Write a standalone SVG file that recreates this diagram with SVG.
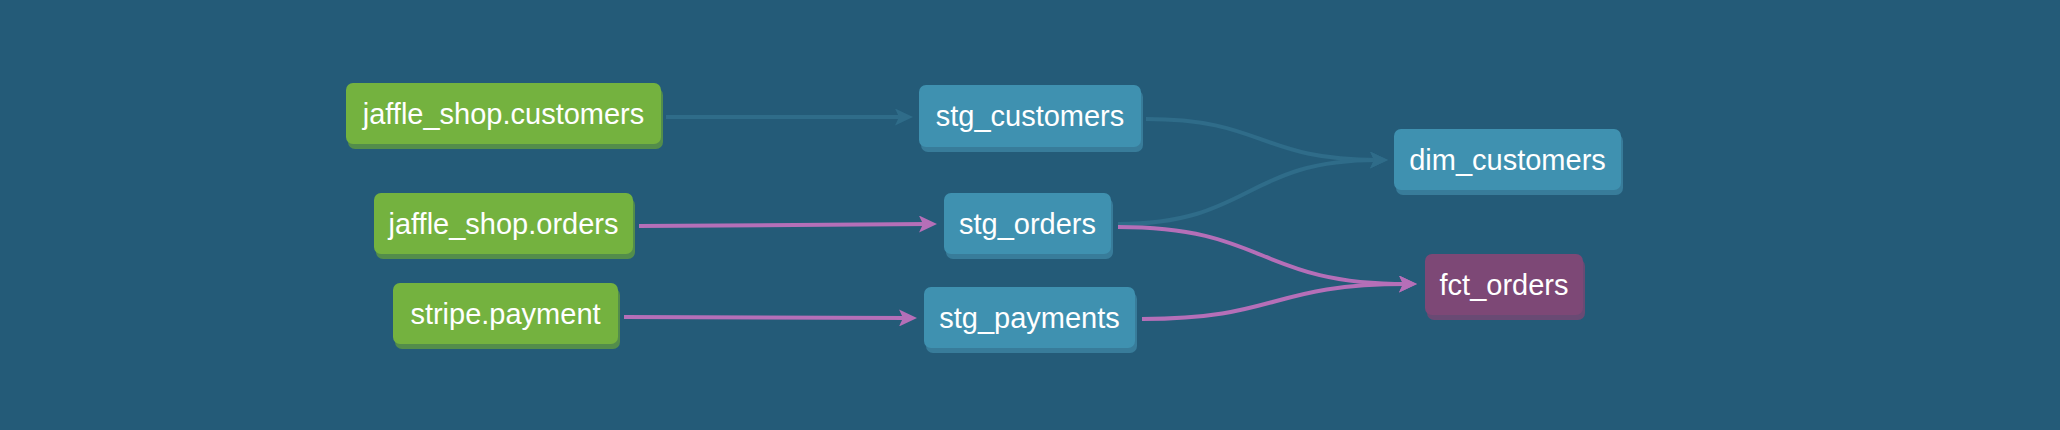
<svg xmlns="http://www.w3.org/2000/svg" width="2060" height="430" viewBox="0 0 2060 430">
<style>
.bg{fill:#245b78}
.lbl{font-family:"Liberation Sans",Arial,Helvetica,sans-serif;font-size:29px;fill:#ffffff;text-anchor:middle}
.src rect.f{fill:#74b23f}
.src rect.s{fill:#538d4b}
.mdl rect.f{fill:#3f91b0}
.mdl rect.s{fill:#387c9a}
.fct rect.f{fill:#7d4876}
.fct rect.s{fill:#694a74}
.e{fill:none}
.teal{stroke:#2f6c89;stroke-width:4}
.pink{stroke:#b56fb8;stroke-width:4}
</style>
<defs>
<marker id="arrT" viewBox="0 0 18 17" refX="8" refY="8.5" markerWidth="18" markerHeight="17" markerUnits="userSpaceOnUse" orient="auto">
<path d="M0,0 L18,8.5 L0,17 L4,8.5 Z" fill="#2f6c89"/>
</marker>
<marker id="arrP" viewBox="0 0 18 17" refX="8" refY="8.5" markerWidth="18" markerHeight="17" markerUnits="userSpaceOnUse" orient="auto">
<path d="M0,0 L18,8.5 L0,17 L4,8.5 Z" fill="#b56fb8"/>
</marker>
</defs>
<rect class="bg" x="0" y="0" width="2060" height="430"/>

<g id="connectors">
<path class="e teal" d="M666,117 L903,117" marker-end="url(#arrT)"/>
<path class="e pink" d="M639,226 L927,224" marker-end="url(#arrP)"/>
<path class="e pink" d="M624,317 L907,318" marker-end="url(#arrP)"/>
<path class="e teal" d="M1146,119 C1265,119 1258,160 1378,160" marker-end="url(#arrT)"/>
<path class="e teal" d="M1118,224 C1252,224 1244,160 1378,160" marker-end="url(#arrT)"/>
<path class="e pink" d="M1118,227 C1268,227 1257,284 1407,284" marker-end="url(#arrP)"/>
<path class="e pink" d="M1142,319 C1280,319 1269,284 1407,284" marker-end="url(#arrP)"/>
</g>

<g id="jaffle_shop.customers" class="src">
<rect class="s" x="348" y="88" width="315" height="61" rx="7"/>
<rect class="f" x="346" y="83" width="315" height="61" rx="7"/>
<text class="lbl" x="503.5" y="124">jaffle_shop.customers</text>
</g>
<g id="jaffle_shop.orders" class="src">
<rect class="s" x="376" y="198" width="259" height="61" rx="7"/>
<rect class="f" x="374" y="193" width="259" height="61" rx="7"/>
<text class="lbl" x="503.5" y="234">jaffle_shop.orders</text>
</g>
<g id="stripe.payment" class="src">
<rect class="s" x="395" y="288" width="225" height="61" rx="7"/>
<rect class="f" x="393" y="283" width="225" height="61" rx="7"/>
<text class="lbl" x="505.5" y="324">stripe.payment</text>
</g>

<g id="stg_customers" class="mdl">
<rect class="s" x="921" y="90" width="222" height="62" rx="7"/>
<rect class="f" x="919" y="85" width="222" height="62" rx="7"/>
<text class="lbl" x="1030" y="126">stg_customers</text>
</g>
<g id="stg_orders" class="mdl">
<rect class="s" x="946" y="198" width="167" height="61" rx="7"/>
<rect class="f" x="944" y="193" width="167" height="61" rx="7"/>
<text class="lbl" x="1027.5" y="234">stg_orders</text>
</g>
<g id="stg_payments" class="mdl">
<rect class="s" x="926" y="292" width="211" height="61" rx="7"/>
<rect class="f" x="924" y="287" width="211" height="61" rx="7"/>
<text class="lbl" x="1029.5" y="328">stg_payments</text>
</g>

<g id="dim_customers" class="mdl">
<rect class="s" x="1396" y="134" width="227" height="61" rx="7"/>
<rect class="f" x="1394" y="129" width="227" height="61" rx="7"/>
<text class="lbl" x="1507.5" y="170">dim_customers</text>
</g>
<g id="fct_orders" class="fct">
<rect class="s" x="1427" y="259" width="158" height="61" rx="7"/>
<rect class="f" x="1425" y="254" width="158" height="61" rx="7"/>
<text class="lbl" x="1504" y="295">fct_orders</text>
</g>
</svg>
